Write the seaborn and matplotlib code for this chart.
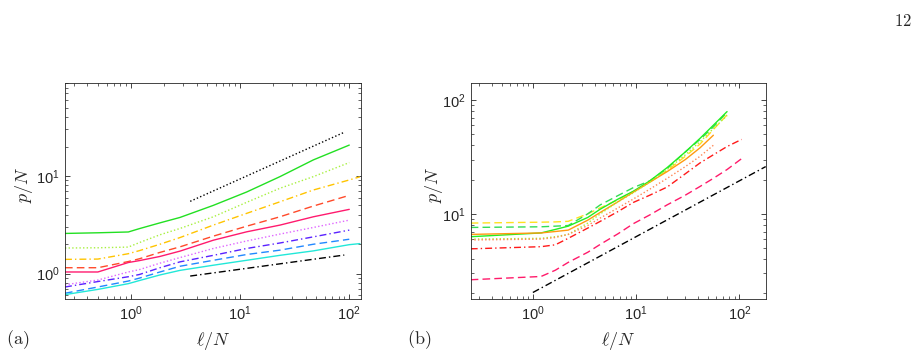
import matplotlib as mpl
import matplotlib.pyplot as plt
plt.switch_backend('Agg')
import seaborn as sns
import numpy as np
import pandas as pd
from matplotlib.ticker import LogLocator, NullFormatter

# ---- panel (a) data ----
xa = [0.25, 0.5, 0.95, 1.2, 1.85, 2.82, 5.7, 11.5, 23.2, 46.9, 100, 125]
a_green = [2.58, 2.62, 2.67, 2.89, 3.31, 3.76, 5.0, 6.85, 9.84, 14.6, 20.7, None]
a_lgreen = [1.83, 1.84, 1.87, 2.08, 2.5, 2.9, 3.82, 5.37, 7.48, 9.84, 13.7, None]
a_yellow = [1.40, 1.41, 1.6, 1.72, 2.0, 2.34, 3.14, 4.14, 5.44, 7.18, 9.1, 9.8]
a_red = [1.15, 1.15, 1.33, 1.42, 1.65, 1.88, 2.42, 3.06, 3.82, 4.92, 6.33, None]
a_pink = [1.04, 1.04, 1.3, 1.36, 1.5, 1.7, 2.2, 2.68, 3.14, 3.82, 4.55, None]
a_violet = [0.77, 0.86, 1.04, 1.1, 1.28, 1.46, 1.81, 2.16, 2.54, 2.97, 3.53, None]
a_blue = [0.73, 0.83, 0.93, 0.98, 1.15, 1.32, 1.54, 1.81, 2.06, 2.38, 2.79, None]
a_lblue = [0.63, 0.73, 0.84, 0.9, 1.04, 1.19, 1.37, 1.57, 1.74, 2.0, 2.25, None]
a_cyan = [0.61, 0.69, 0.79, 0.85, 0.97, 1.08, 1.22, 1.37, 1.54, 1.71, 1.98, 2.03]
a_ref_x = [3.5, 90]
a_ref_top = [5.5, 28.0]
a_ref_bot = [0.945, 1.55]

# ---- panel (b) data ----
xb = [0.25, 1.2, 1.65, 2.2, 3.4, 4.5, 6.7, 9.4, 13.6, 20, 30, 41.6, 56, 76, 105]
b_yellow = [8.3, 8.45, 8.5, 8.6, 10.0, 11.3, 13.3, 15.7, 19.0, 24.0, 32.0, 41.0, 55.0, 74.0, None]
b_gdash = [7.6, 7.7, 7.8, 7.9, 10.0, 12.0, 14.5, 17.0, 19.5, 25.0, 35.0, 45.0, 58.0, 78.0, None]
b_green = [6.3, 6.8, 7.3, 7.8, 9.3, 11.0, 13.5, 15.8, 19.5, 25.5, 35.0, 46.0, 60.0, 79.0, None]
b_orange = [6.6, 6.8, 7.0, 7.2, 8.8, 10.3, 12.8, 15.5, 19.0, 23.5, 30.0, 38.0, 49.0, None, None]
b_lgreen = [6.0, 6.1, 6.3, 6.6, 8.3, 10.0, 12.8, 15.3, 19.0, 24.5, 33.0, 43.0, 56.0, 73.0, None]
b_odot = [5.9, 6.0, 6.2, 6.6, 7.9, 9.2, 11.3, 13.5, 16.5, 20.5, 26.0, 32.0, 40.0, None, None]
b_red = [4.93, 5.15, 5.35, 6.1, 7.5, 8.6, 10.5, 12.6, 14.6, 17.2, 22.5, 28.0, 33.0, 39.0, 45.0]
b_pink = [2.64, 2.82, 3.2, 3.75, 4.6, 5.4, 6.7, 8.2, 9.8, 12.0, 14.6, 17.4, 20.5, 24.5, 30.5]
b_ref_x = [1.0, 180]
b_ref = [2.04, 26.0]

DOT = (1, 1.6)
DASH = (5.5, 3)
DASHDOT = (5, 2.2, 1, 2.2)

series_a = [
    (a_green, '#22e022', None), (a_lgreen, '#a8f040', DOT),
    (a_yellow, '#ffc400', DASHDOT), (a_red, '#ff4a2a', DASH),
    (a_pink, '#ff1a6e', None), (a_violet, '#e066ff', DOT),
    (a_blue, '#5a22ff', DASHDOT), (a_lblue, '#2288ff', DASH),
    (a_cyan, '#22e8d8', None),
]
series_b = [
    (b_yellow, '#ffe020', DASH), (b_gdash, '#33dd55', DASH),
    (b_green, '#22ee22', None), (b_orange, '#ff9a10', None),
    (b_lgreen, '#a8f030', DOT), (b_odot, '#ff8855', DOT),
    (b_red, '#ff1a1a', DASHDOT), (b_pink, '#ff1a6a', DASH),
]

sns.set_style('ticks')
plt.rcParams['font.family'] = ['Liberation Sans', 'DejaVu Sans']
plt.rcParams['mathtext.fontset'] = 'cm'
plt.rcParams['axes.linewidth'] = 0.6
plt.rcParams['axes.edgecolor'] = '#262626'


def draw(ax, x, y, color, dashes):
    df = pd.DataFrame({'x': x, 'y': y}).dropna()
    kw = {'linestyle': '-'} if dashes is None else {'dashes': dashes}
    sns.lineplot(data=df, x='x', y='y', ax=ax, color=color, lw=1.0, **kw)


def style(ax, xlim, ylim, ylab_x):
    ax.set_xscale('log')
    ax.set_yscale('log')
    ax.set_xlim(*xlim)
    ax.set_ylim(*ylim)
    ax.tick_params(which='both', direction='in', top=True, right=True,
                   labelsize=10.5, colors='#262626', pad=4)
    ax.tick_params(which='major', length=3.5, width=0.6)
    ax.tick_params(which='minor', length=2, width=0.5)
    ax.xaxis.set_minor_locator(LogLocator(base=10, subs=np.arange(2, 10)))
    ax.yaxis.set_minor_locator(LogLocator(base=10, subs=np.arange(2, 10)))
    ax.xaxis.set_minor_formatter(NullFormatter())
    ax.yaxis.set_minor_formatter(NullFormatter())
    ax.set_xlabel(r'$\ell/N$', fontsize=13)
    ax.set_ylabel(r'$p/N$', fontsize=13)
    ax.xaxis.set_label_coords(0.5, -0.145)
    ax.yaxis.set_label_coords(ylab_x, 0.53)


fig = plt.figure(figsize=(9.19, 3.6), dpi=100)
ax1 = fig.add_axes([0.0707, 0.1694, 0.3221, 0.6008])
ax2 = fig.add_axes([0.5122, 0.1703, 0.3210, 0.5983])

style(ax1, (0.25, 128), (0.55, 90), -0.102)
style(ax2, (0.25, 180), (1.8, 140), -0.088)

for y, c, d in series_a:
    draw(ax1, xa, y, c, d)
draw(ax1, a_ref_x, a_ref_top, 'black', DOT)
draw(ax1, a_ref_x, a_ref_bot, 'black', DASHDOT)

for y, c, d in series_b:
    draw(ax2, xb, y, c, d)
draw(ax2, b_ref_x, b_ref, 'black', DASHDOT)

fig.text(0.006, 0.045, r'$\mathrm{(a)}$', fontsize=13)
fig.text(0.443, 0.045, r'$\mathrm{(b)}$', fontsize=13)
fig.text(0.983, 0.965, r'$\mathrm{12}$', fontsize=12, ha='center', va='top')

fig.savefig('out.png', dpi=100)
